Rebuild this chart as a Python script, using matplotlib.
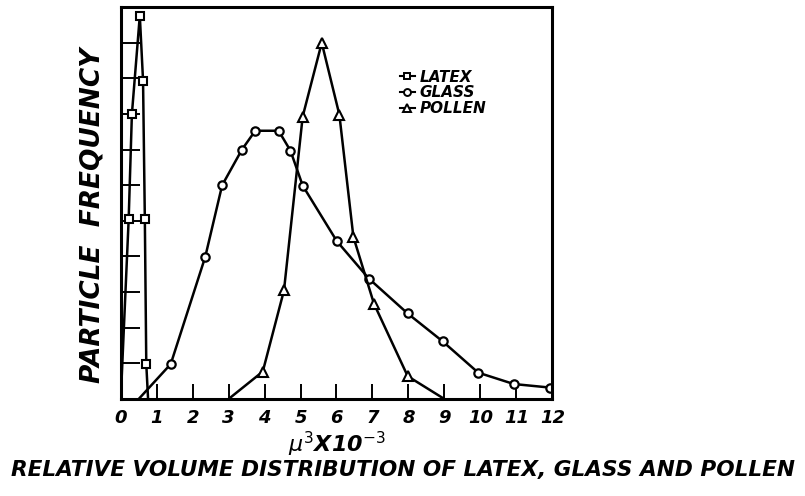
import numpy as np
from matplotlib import pyplot as plt
from matplotlib.lines import Line2D

# values (x in mu^3 x 10^-3, y in grid units)
latex_x = [0.0, 0.22, 0.31, 0.53, 0.62, 0.67, 0.71, 0.76]
latex_y = [0.0, 5.04, 8.0, 10.76, 8.94, 5.04, 0.98, 0.0]

glass_x = [0.5, 1.39, 2.35, 2.82, 3.37, 3.74, 4.39, 4.72, 5.06, 6.01, 6.9,
           7.98, 8.95, 9.94, 10.93, 11.94]
glass_y = [0.0, 0.98, 3.99, 6.0, 7.0, 7.53, 7.53, 6.97, 5.99, 4.43, 3.38,
           2.40, 1.62, 0.74, 0.42, 0.32]

pollen_x = [3.0, 3.95, 4.54, 5.06, 5.59, 6.08, 6.47, 7.04, 7.98, 9.0]
pollen_y = [0.0, 0.77, 3.05, 7.93, 10.0, 7.98, 4.55, 2.68, 0.64, 0.0]

xticks = list(range(0, 13))
yticks = list(range(0, 12))

fnt = {'family': 'DejaVu Sans', 'weight': 'bold', 'style': 'oblique'}

fig = plt.figure(figsize=(8.05, 4.96), dpi=100)
ax = fig.add_axes([0.150, 0.1956, 0.536, 0.790])

lw = 1.8
ax.plot(latex_x, latex_y, color='black', lw=lw, marker='s', ms=5.5,
        mfc='white', mec='black', mew=1.5, markevery=list(range(1, 7)))
ax.plot(glass_x, glass_y, color='black', lw=lw, marker='o', ms=6,
        mfc='white', mec='black', mew=1.6, markevery=list(range(1, 16)))
ax.plot(pollen_x, pollen_y, color='black', lw=lw, marker='^', ms=7,
        mfc='white', mec='black', mew=1.5, markevery=list(range(1, 9)))

ax.set_xlim(0, 12)
ax.set_ylim(0, 11)
ax.set_xticks(xticks)
ax.set_xticklabels([str(t) for t in xticks], fontdict=fnt, fontsize=13)
ax.set_yticks(yticks)
ax.set_yticklabels([])
ax.tick_params(axis='x', direction='in', length=11, width=1.4, pad=7)
ax.tick_params(axis='y', direction='in', length=14, width=1.4)
for s in ax.spines.values():
    s.set_linewidth(2.2)

ax.set_xlabel(r'$\mu^3$X10$^{-3}$', fontdict=fnt, fontsize=16, labelpad=2)
ax.set_ylabel('PARTICLE  FREQUENCY', fontdict=fnt, fontsize=19)
ax.yaxis.set_label_coords(-0.035, 0.47)

handles = [
    Line2D([], [], color='black', lw=1.5, marker='s', ms=5, mfc='white', mew=1.4),
    Line2D([], [], color='black', lw=1.5, marker='o', ms=5, mfc='white', mew=1.4),
    Line2D([], [], color='black', lw=1.5, marker='^', ms=6, mfc='white', mew=1.4),
]
ax.legend(handles, ['LATEX', 'GLASS', 'POLLEN'], loc='upper left',
          bbox_to_anchor=(392 / 805, 1 - 62 / 496), bbox_transform=fig.transFigure,
          frameon=False, borderpad=0, labelspacing=0.05, handlelength=1.0,
          handletextpad=0.3, prop={'family': 'DejaVu Sans', 'weight': 'bold',
                                    'style': 'oblique', 'size': 11})

fig.text(0.5, 1 - 470 / 496, 'RELATIVE VOLUME DISTRIBUTION OF LATEX, GLASS AND POLLEN',
         ha='center', va='center', fontdict=fnt, fontsize=15.6)

fig.savefig('out.png', dpi=100)
